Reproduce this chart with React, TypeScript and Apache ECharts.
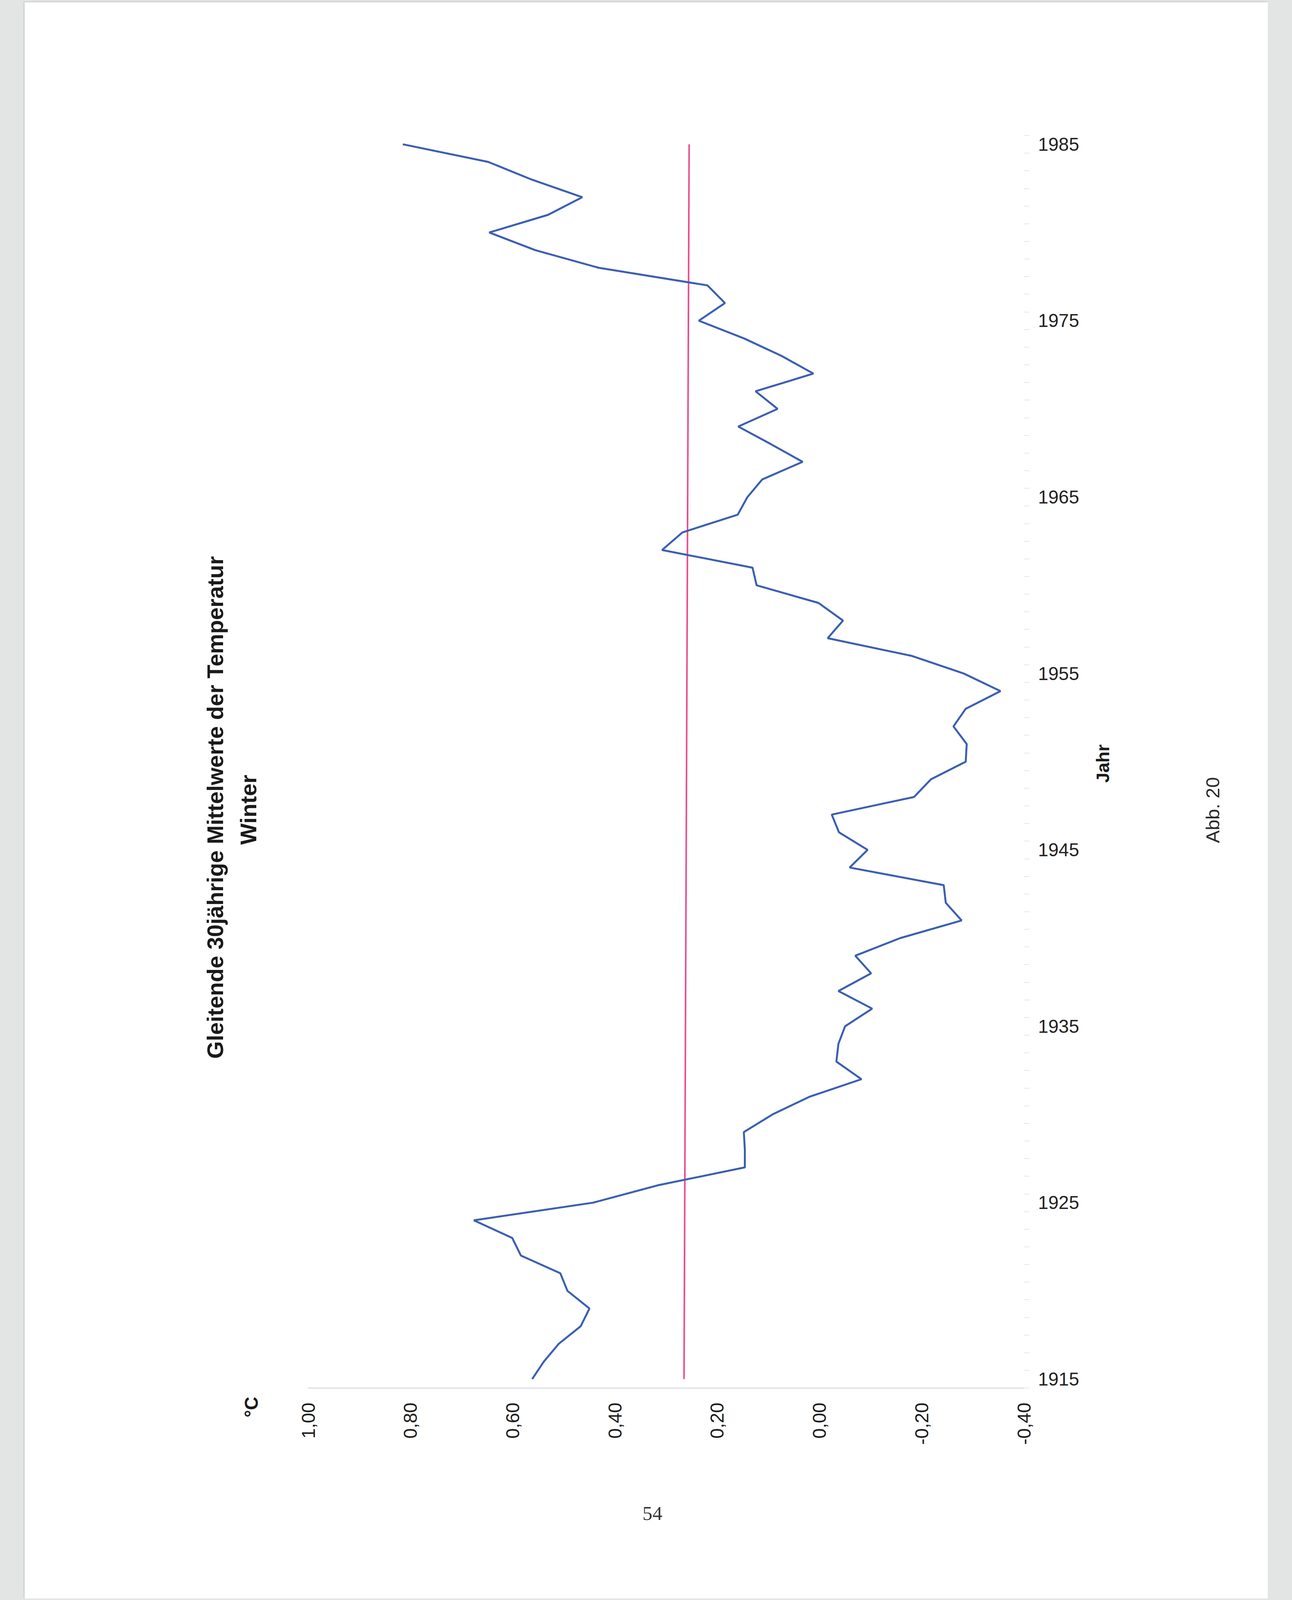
import React, { useEffect, useRef } from "react";
import * as echarts from "echarts";

// Categories (years) shown on the vertical axis
const years = [
  "1915", "1916", "1917", "1918", "1919", "1920", "1921", "1922", "1923", "1924",
  "1925", "1926", "1927", "1928", "1929", "1930", "1931", "1932", "1933", "1934",
  "1935", "1936", "1937", "1938", "1939", "1940", "1941", "1942", "1943", "1944",
  "1945", "1946", "1947", "1948", "1949", "1950", "1951", "1952", "1953", "1954",
  "1955", "1956", "1957", "1958", "1959", "1960", "1961", "1962", "1963", "1964",
  "1965", "1966", "1967", "1968", "1969", "1970", "1971", "1972", "1973", "1974",
  "1975", "1976", "1977", "1978", "1979", "1980", "1981", "1982", "1983", "1984",
  "1985",
];

// Gleitende 30jährige Mittelwerte (°C), Winter
const winterMean = [
  0.562, 0.539, 0.51, 0.467, 0.45, 0.493, 0.507, 0.584, 0.601, 0.676,
  0.443, 0.314, 0.146, 0.146, 0.148, 0.092, 0.02, -0.082, -0.033, -0.037,
  -0.05, -0.103, -0.037, -0.101, -0.07, -0.158, -0.278, -0.247, -0.243, -0.059,
  -0.094, -0.038, -0.024, -0.185, -0.218, -0.286, -0.288, -0.262, -0.286, -0.354,
  -0.282, -0.18, -0.016, -0.046, 0.002, 0.123, 0.131, 0.308, 0.268, 0.16,
  0.141, 0.112, 0.033, 0.095, 0.159, 0.082, 0.125, 0.012, 0.074, 0.148,
  0.236, 0.185, 0.219, 0.432, 0.556, 0.646, 0.531, 0.464, 0.563, 0.648,
  0.815,
];

// Reference (mean) line: value at first and last year
const referenceYears = ["1915", "1985"];
const referenceValues = [0.265, 0.255];

// Value axis range and step
const valueMin = -0.4;
const valueMax = 1.0;
const valueStep = 0.2;

const titleLine1 = "Gleitende 30jährige Mittelwerte der Temperatur";
const titleLine2 = "Winter";
const unitLabel = "°C";
const yearAxisName = "Jahr";
const figureLabel = "Abb. 20";
const pageNumber = "54";

const SANS = "'Liberation Sans', Arial, Helvetica, sans-serif";
const PAGE_W = 3307;
const DESIGN_H = 4677;

export default function App() {
  const ref = useRef<HTMLDivElement>(null);
  const H = Math.min(DESIGN_H, typeof window !== "undefined" && window.innerHeight > 0 ? window.innerHeight : DESIGN_H);
  const k = H / DESIGN_H;

  useEffect(() => {
    document.body.style.margin = "0";
    const chart = echarts.init(ref.current as HTMLDivElement, null, { renderer: "svg" });
    const R = Math.PI / 2;
    const f = (n: number) => Math.round(n * k * 10) / 10;
    chart.setOption({
      animation: false,
      backgroundColor: "transparent",
      grid: { left: 789, top: 396 * k, width: 1832, height: 3661 * k, containLabel: false },
      xAxis: {
        type: "value",
        inverse: true,
        min: valueMin,
        max: valueMax,
        interval: valueStep,
        position: "bottom",
        axisLine: { show: true, onZero: false, lineStyle: { color: "#dde0e8", width: 3 } },
        axisTick: { show: false },
        splitLine: { show: false },
        axisLabel: {
          rotate: 90,
          margin: 43 * k,
          fontSize: f(54),
          fontFamily: SANS,
          color: "#1c1c1c",
          formatter: (v: number) => {
            const x = Math.abs(v) < 1e-9 ? 0 : v;
            return x.toFixed(2).replace(".", ",");
          },
        },
      },
      yAxis: {
        type: "category",
        data: years,
        position: "right",
        boundaryGap: true,
        axisLine: { show: false, onZero: false },
        axisTick: {
          show: true,
          interval: 0,
          length: 14,
          lineStyle: { color: "#e8e8e8", width: 2 },
        },
        splitLine: { show: false },
        axisLabel: {
          interval: 9,
          margin: 36,
          fontSize: f(54),
          fontFamily: SANS,
          color: "#222222",
        },
      },
      series: [
        {
          type: "line",
          name: "Winter",
          data: winterMean,
          symbol: "none",
          showSymbol: false,
          lineStyle: { color: "#3b5fb2", width: 5 },
          z: 3,
        },
        {
          type: "line",
          name: "Mittel",
          data: referenceYears.map((y, i) => [referenceValues[i], years.indexOf(y)]),
          symbol: "none",
          showSymbol: false,
          lineStyle: { color: "#ec4a8e", width: 4 },
          z: 2,
        },
      ],
      graphic: [
        {
          type: "text",
          x: 551,
          y: 2360 * k,
          rotation: R,
          style: {
            text: titleLine1,
            font: `bold ${f(66)}px ${SANS}`,
            fill: "#1a1a1a",
            textAlign: "center",
            textVerticalAlign: "middle",
          },
        },
        {
          type: "text",
          x: 636,
          y: 2367 * k,
          rotation: R,
          style: {
            text: titleLine2,
            font: `bold ${f(66)}px ${SANS}`,
            fill: "#1a1a1a",
            textAlign: "center",
            textVerticalAlign: "middle",
          },
        },
        {
          type: "text",
          x: 643,
          y: 4113 * k,
          rotation: R,
          style: {
            text: unitLabel,
            font: `bold ${f(54)}px ${SANS}`,
            fill: "#1a1a1a",
            textAlign: "center",
            textVerticalAlign: "middle",
          },
        },
        {
          type: "text",
          x: 2823,
          y: 2232 * k,
          rotation: R,
          style: {
            text: yearAxisName,
            font: `bold ${f(53)}px ${SANS}`,
            fill: "#1a1a1a",
            textAlign: "center",
            textVerticalAlign: "middle",
          },
        },
        {
          type: "text",
          x: 3104,
          y: 2368 * k,
          rotation: R,
          style: {
            text: figureLabel,
            font: `${f(56)}px ${SANS}`,
            fill: "#2a2a2a",
            textAlign: "center",
            textVerticalAlign: "middle",
          },
        },
        {
          type: "text",
          x: 1670,
          y: 4424 * k,
          style: {
            text: pageNumber,
            font: `${f(58)}px 'Liberation Serif', 'Times New Roman', serif`,
            fill: "#333333",
            textAlign: "center",
            textVerticalAlign: "middle",
          },
        },
      ],
    });
    return () => chart.dispose();
  }, [k]);

  return (
    <div style={{ position: "relative", width: PAGE_W, height: H, background: "#e3e5e5", overflow: "hidden" }}>
      <div
        style={{
          position: "absolute",
          left: 60,
          top: Math.round(3 * k),
          width: 3185,
          height: Math.round(4669 * k),
          background: "#ffffff",
          borderLeft: "3px solid #cfd2d2",
          borderTop: "3px solid #d3d5d5",
          boxSizing: "border-box",
        }}
      />
      <div ref={ref} style={{ position: "absolute", left: 0, top: 0, width: PAGE_W, height: H }} />
    </div>
  );
}
